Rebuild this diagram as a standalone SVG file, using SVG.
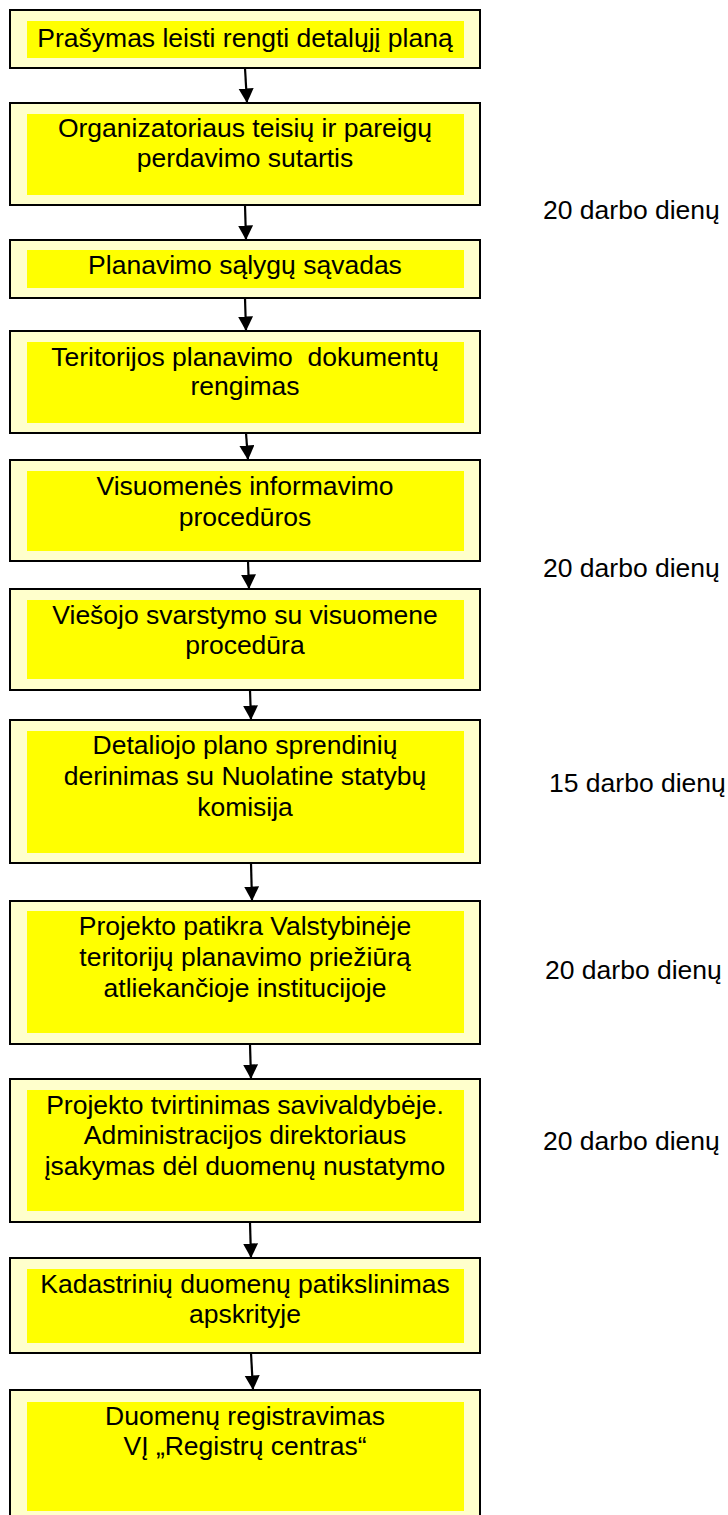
<svg xmlns="http://www.w3.org/2000/svg" width="728" height="1515" viewBox="0 0 728 1515">
<style>
.outer{fill:#FFFFCC;stroke:#000;stroke-width:2}
.inner{fill:#FFFF00;stroke:none}
.t{font-family:"Liberation Sans",Arial,sans-serif;font-size:26.5px;fill:#000;text-anchor:middle}
.lbl{font-family:"Liberation Sans",Arial,sans-serif;font-size:26.5px;fill:#000}
.conn{stroke:#000;stroke-width:2.2;fill:none;marker-end:url(#ah)}
</style>
<defs>
<marker id="ah" markerUnits="userSpaceOnUse" markerWidth="16" markerHeight="16" refX="14.5" refY="7.5" orient="auto" viewBox="0 0 16 16">
<path d="M0,0 L14.5,7.5 L0,15 z" fill="#000"/>
</marker>
</defs>
<rect width="728" height="1515" fill="#fff"/>
<g id="connectors">
<line class="conn" x1="245" y1="68" x2="247" y2="103"/>
<line class="conn" x1="245" y1="205" x2="246" y2="240"/>
<line class="conn" x1="245" y1="298" x2="246" y2="331"/>
<line class="conn" x1="246" y1="433" x2="248" y2="460"/>
<line class="conn" x1="248" y1="561" x2="249" y2="589"/>
<line class="conn" x1="250" y1="690" x2="251" y2="720"/>
<line class="conn" x1="251" y1="863" x2="252" y2="901"/>
<line class="conn" x1="250" y1="1044" x2="251" y2="1079"/>
<line class="conn" x1="250" y1="1222" x2="251" y2="1258"/>
<line class="conn" x1="251" y1="1353" x2="253" y2="1390"/>
</g>
<g id="n1">
<rect class="outer" x="10" y="10" width="470" height="58"/>
<rect class="inner" x="27" y="21" width="437" height="37"/>
<text class="t" x="245" y="47">Prašymas leisti rengti detalųjį planą</text>
</g>
<g id="n2">
<rect class="outer" x="10" y="103" width="470" height="102"/>
<rect class="inner" x="27" y="114" width="437" height="81"/>
<text class="t" x="245" y="137">Organizatoriaus teisių ir pareigų</text>
<text class="t" x="245" y="167">perdavimo sutartis</text>
</g>
<g id="n3">
<rect class="outer" x="10" y="240" width="470" height="58"/>
<rect class="inner" x="27" y="250" width="437" height="38"/>
<text class="t" x="245" y="274">Planavimo sąlygų sąvadas</text>
</g>
<g id="n4">
<rect class="outer" x="10" y="331" width="470" height="102"/>
<rect class="inner" x="27" y="342" width="437" height="81"/>
<text class="t" x="245" y="366" xml:space="preserve">Teritorijos planavimo  dokumentų</text>
<text class="t" x="245" y="395">rengimas</text>
</g>
<g id="n5">
<rect class="outer" x="10" y="460" width="470" height="101"/>
<rect class="inner" x="27" y="471" width="437" height="80"/>
<text class="t" x="245" y="495">Visuomenės informavimo</text>
<text class="t" x="245" y="526">procedūros</text>
</g>
<g id="n6">
<rect class="outer" x="10" y="589" width="470" height="101"/>
<rect class="inner" x="27" y="600" width="437" height="79"/>
<text class="t" x="245" y="624">Viešojo svarstymo su visuomene</text>
<text class="t" x="245" y="654">procedūra</text>
</g>
<g id="n7">
<rect class="outer" x="10" y="720" width="470" height="143"/>
<rect class="inner" x="27" y="731" width="437" height="122"/>
<text class="t" x="245" y="754">Detaliojo plano sprendinių</text>
<text class="t" x="245" y="785">derinimas su Nuolatine statybų</text>
<text class="t" x="245" y="816">komisija</text>
</g>
<g id="n8">
<rect class="outer" x="10" y="901" width="470" height="143"/>
<rect class="inner" x="27" y="911" width="437" height="122"/>
<text class="t" x="245" y="935">Projekto patikra Valstybinėje</text>
<text class="t" x="245" y="966">teritorijų planavimo priežiūrą</text>
<text class="t" x="245" y="997">atliekančioje institucijoje</text>
</g>
<g id="n9">
<rect class="outer" x="10" y="1079" width="470" height="143"/>
<rect class="inner" x="27" y="1090" width="437" height="121"/>
<text class="t" x="245" y="1114">Projekto tvirtinimas savivaldybėje.</text>
<text class="t" x="245" y="1144">Administracijos direktoriaus</text>
<text class="t" x="245" y="1175">įsakymas dėl duomenų nustatymo</text>
</g>
<g id="n10">
<rect class="outer" x="10" y="1258" width="470" height="95"/>
<rect class="inner" x="27" y="1269" width="437" height="74"/>
<text class="t" x="245" y="1293">Kadastrinių duomenų patikslinimas</text>
<text class="t" x="245" y="1323">apskrityje</text>
</g>
<g id="n11">
<rect class="outer" x="10" y="1390" width="470" height="140"/>
<rect class="inner" x="27" y="1402" width="437" height="109"/>
<text class="t" x="245" y="1425">Duomenų registravimas</text>
<text class="t" x="245" y="1455">VĮ „Registrų centras“</text>
</g>
<g id="labels">
<text class="lbl" x="543" y="219">20 darbo dienų</text>
<text class="lbl" x="543" y="577">20 darbo dienų</text>
<text class="lbl" x="549" y="792">15 darbo dienų</text>
<text class="lbl" x="545" y="979">20 darbo dienų</text>
<text class="lbl" x="543" y="1150">20 darbo dienų</text>
</g>
</svg>
